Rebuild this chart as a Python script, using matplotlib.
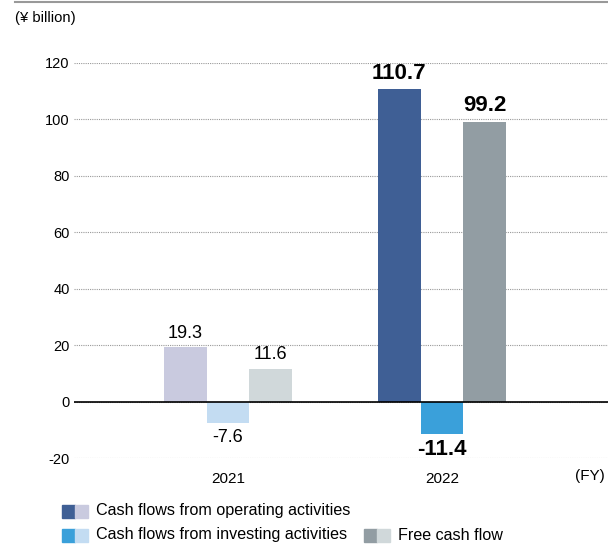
import matplotlib
matplotlib.use("Agg")
import matplotlib.pyplot as plt
import numpy as np
from matplotlib.patches import Rectangle
from matplotlib.lines import Line2D

plt.rcParams["font.family"] = ["Liberation Sans", "DejaVu Sans"]
plt.rcParams["axes.unicode_minus"] = False

years = ["2021", "2022"]
series = ["Cash flows from operating activities",
          "Cash flows from investing activities",
          "Free cash flow"]
operating = [19.3, 110.7]
investing = [-7.6, -11.4]
free_cf = [11.6, 99.2]
values = [operating, investing, free_cf]
yticks = [-20, 0, 20, 40, 60, 80, 100, 120]

# colours: (current year dark, previous year light)
colors = [("#3F5F95", "#C9CADF"),
          ("#3AA0DA", "#C3DCF2"),
          ("#929DA3", "#D0D8DA")]

W, H = 608, 547
fig = plt.figure(figsize=(W / 100, H / 100), dpi=100)
ax = fig.add_axes([74 / W, 89 / H, 1 - 74 / W, (458 - 63) / H])

x = np.arange(len(years))
w = 0.2
for i, vals in enumerate(values):
    for j, v in enumerate(vals):
        latest = j == len(years) - 1
        c = colors[i][0] if latest else colors[i][1]
        xi = x[j] + (i - 1) * w
        ax.bar(xi, v, width=w, color=c, zorder=3)
        off = 4 if v >= 0 else -4
        va = "bottom" if v >= 0 else "top"
        ax.annotate(f"{v:.1f}", (xi, v), xytext=(0, off), textcoords="offset points",
                    ha="center", va=va, annotation_clip=False,
                    fontsize=16 if latest else 13,
                    fontweight="bold" if latest else "normal")

ax.set_xlim(-0.72, 1.776)
ax.set_ylim(-20, 120)
ax.set_yticks(yticks)
ax.set_xticks(x)
ax.set_xticklabels(years)
ax.tick_params(length=0)
ax.tick_params(axis="y", pad=3, labelsize=10.5)
ax.tick_params(axis="x", pad=10, labelsize=11)
for s in ax.spines.values():
    s.set_visible(False)
ax.grid(axis="y", color="#999999", linestyle=(0, (1, 1)), linewidth=0.8, zorder=0)
ax.axhline(0, color="black", linewidth=1.2, zorder=4)

fig.add_artist(Line2D([15 / W, 1], [1 - 2 / H] * 2, color="#999999", linewidth=1.5))
fig.text(15 / W, 1 - 18 / H, "(¥ billion)", fontsize=10.7, va="center")
fig.text(605 / W, 1 - 476 / H, "(FY)", fontsize=11, va="center", ha="right")

# legend: dark + light swatch per series
legend_pos = [(62, 511), (62, 535), (364, 535)]
s = 13
for (lx, ly), name, (dark, light) in zip(legend_pos, series, colors):
    fig.add_artist(Rectangle((lx / W, (H - ly - s / 2) / H), s / W, s / H,
                             color=dark, transform=fig.transFigure))
    fig.add_artist(Rectangle(((lx + s) / W, (H - ly - s / 2) / H), s / W, s / H,
                             color=light, transform=fig.transFigure))
    fig.text((lx + 34) / W, (H - ly) / H, name, fontsize=11.6, va="center")

fig.savefig("out.png", dpi=100)
